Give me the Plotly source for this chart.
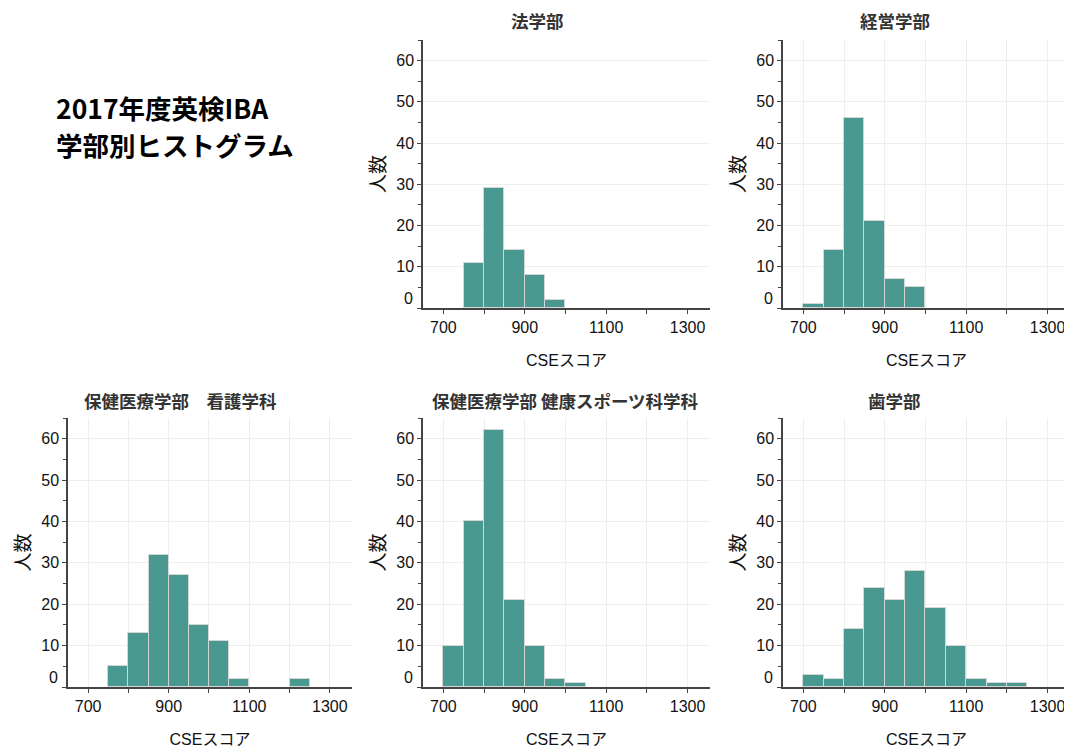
import plotly.graph_objects as go

bin_starts = [700, 750, 800, 850, 900, 950, 1000, 1050, 1100, 1150, 1200, 1250]
bin_width = 50

faculties = ["法学部", "経営学部", "保健医療学部　看護学科", "保健医療学部 健康スポーツ科学科", "歯学部"]
counts_law = [0, 11, 29, 14, 8, 2, 0, 0, 0, 0, 0, 0]
counts_mgmt = [1, 14, 46, 21, 7, 5, 0, 0, 0, 0, 0, 0]
counts_nursing = [0, 5, 13, 32, 27, 15, 11, 2, 0, 0, 2, 0]
counts_sports = [10, 40, 62, 21, 10, 2, 1, 0, 0, 0, 0, 0]
counts_dental = [3, 2, 14, 24, 21, 28, 19, 10, 2, 1, 1, 0]
all_counts = [counts_law, counts_mgmt, counts_nursing, counts_sports, counts_dental]

x_tickvals = [700, 800, 900, 1000, 1100, 1200, 1300]
x_ticktext = ["700", "", "900", "", "1100", "", "1300"]
y_tickvals = [0, 10, 20, 30, 40, 50, 60]
y_ticktext = ["", "10", "20", "30", "40", "50", "60"]

title_lines = ["2017年度英検IBA", "学部別ヒストグラム"]

# page body has an 8px margin: figure is drawn from screen (8, 8)
OFF = 8
W, H = 1072 - OFF, 749 - OFF


def fx(s):
    return (s - OFF) / W


def fy(s):
    return 1 - (s - OFF) / H


# panel boxes in screen pixels: (left, right, top, bottom)
boxes = [(423, 710, 40, 308), (783, 1070, 40, 308),
         (68, 352, 418, 687), (423, 710, 418, 687), (783, 1070, 418, 687)]
title_pos = [(537, 20), (895, 20), (180, 400), (565, 400), (894, 400)]
xgrid = [False, True, True, True, True]

BAR = "#4a9990"
GRID = "#eeeeee"
AX = "#444444"
TICKFONT = dict(family="Liberation Sans, Arial, sans-serif", size=16, color="#111111")
JPFONT = "Liberation Sans, Noto Sans CJK JP, sans-serif"
CJK = "Noto Sans CJK JP, sans-serif"

fig = go.Figure()
layout = dict(
    width=W, height=H, margin=dict(l=0, r=0, t=0, b=0),
    paper_bgcolor="white", plot_bgcolor="white", showlegend=False,
    bargap=0,
)
annotations = []
for i, (name, counts) in enumerate(zip(faculties, all_counts)):
    k = i + 1
    xs = "x" if k == 1 else f"x{k}"
    ys = "y" if k == 1 else f"y{k}"
    xc = [s + bin_width / 2 for s, c in zip(bin_starts, counts) if c > 0]
    yc = [c for c in counts if c > 0]
    fig.add_trace(go.Bar(
        x=xc, y=yc, width=bin_width, xaxis=xs, yaxis=ys,
        marker=dict(color=BAR, line=dict(color="#d6d6d6", width=1)),
        hoverinfo="x+y",
    ))
    l, r, t, b = boxes[i]
    xa = dict(
        domain=[fx(l), fx(r)], anchor=ys, range=[650, 1355],
        tickvals=x_tickvals, ticktext=x_ticktext,
        ticks="outside", ticklen=4, tickcolor=AX,
        showline=True, linecolor=AX, linewidth=1.5,
        showgrid=xgrid[i], gridcolor=GRID, gridwidth=1,
        zeroline=False, tickfont=TICKFONT,
        title=dict(text="CSEスコア", font=dict(family=JPFONT, size=16, color="#111111"), standoff=20),
    )
    ya = dict(
        domain=[fy(b), fy(t)], anchor=xs, range=[0, 65],
        tickvals=y_tickvals, ticktext=y_ticktext,
        ticks="outside", ticklen=4, tickcolor=AX,
        minor=dict(tickvals=[5, 15, 25, 35, 45, 55, 65], ticks="outside", ticklen=3, tickcolor=AX, showgrid=False),
        showline=True, linecolor=AX, linewidth=1.5,
        showgrid=True, gridcolor=GRID, gridwidth=1,
        zeroline=False, tickfont=TICKFONT,
        title=dict(text="人数", font=dict(family=CJK, size=19, color="#111111"), standoff=6),
    )
    layout["xaxis" if k == 1 else f"xaxis{k}"] = xa
    layout["yaxis" if k == 1 else f"yaxis{k}"] = ya
    # shifted zero label
    annotations.append(dict(
        text="0", xref=f"{xs} domain", yref=ys, x=0, y=0,
        xanchor="right", yanchor="middle", xshift=-8, yshift=10,
        showarrow=False, font=TICKFONT,
    ))
    tx, ty = title_pos[i]
    annotations.append(dict(
        text=f"<b>{name}</b>", xref="paper", yref="paper",
        x=fx(tx), y=fy(ty), xanchor="center", yanchor="middle",
        showarrow=False, font=dict(family=CJK, size=17.5, color="#333333"),
    ))

for line, sy in zip(title_lines, [108, 145]):
    annotations.append(dict(
        text=f"<b>{line}</b>", xref="paper", yref="paper",
        x=fx(54), y=fy(sy), xanchor="left", yanchor="middle", align="left",
        showarrow=False, font=dict(family=CJK, size=26.5, color="#000000"),
    ))
layout["annotations"] = annotations
fig.update_layout(**layout)
fig.write_html("out.html")
